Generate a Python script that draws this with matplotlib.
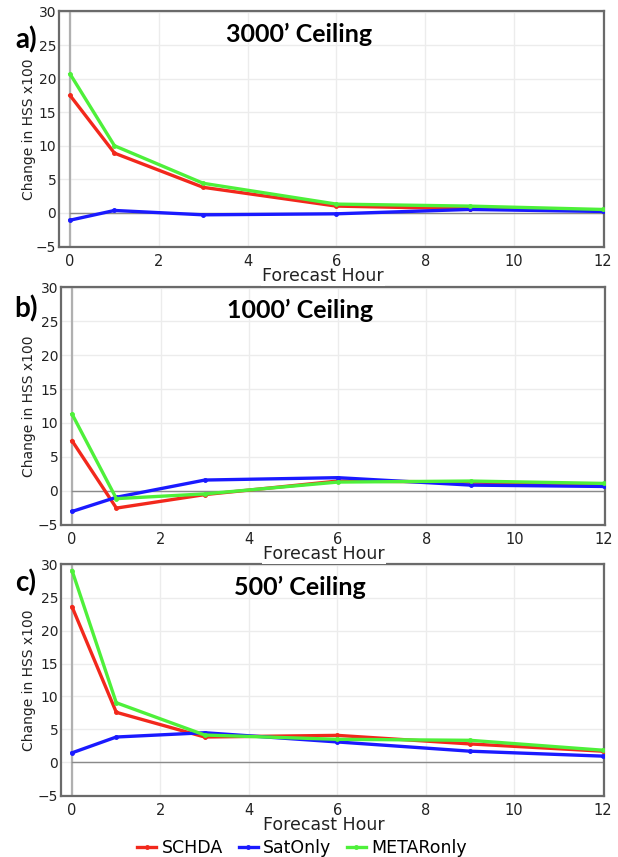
import matplotlib
matplotlib.use("Agg")
import matplotlib.pyplot as plt

# forecast hours
hours = [0, 1, 3, 6, 9, 12]

# change in HSS x100
schda_3000 = [17.5, 8.9, 3.8, 1.0, 0.6, 0.35]
sat_3000 = [-1.1, 0.35, -0.3, -0.15, 0.5, 0.2]
metar_3000 = [20.7, 10.0, 4.4, 1.3, 1.0, 0.5]

schda_1000 = [7.35, -2.6, -0.6, 1.4, 1.25, 0.9]
sat_1000 = [-3.1, -1.0, 1.55, 1.9, 0.8, 0.6]
metar_1000 = [11.3, -1.2, -0.5, 1.25, 1.4, 1.05]

schda_500 = [23.6, 7.6, 3.85, 4.1, 2.8, 1.7]
sat_500 = [1.45, 3.85, 4.5, 3.1, 1.7, 0.95]
metar_500 = [29.1, 9.05, 4.15, 3.5, 3.35, 1.85]

titles = ["3000\u2019 Ceiling", "1000\u2019 Ceiling", "500\u2019 Ceiling"]
letters = ["a)", "b)", "c)"]
series_names = ["SCHDA", "SatOnly", "METARonly"]
colors = ["#f2281c", "#1a1aff", "#4ef03a"]

panels = [
	[schda_3000, sat_3000, metar_3000],
	[schda_1000, sat_1000, metar_1000],
	[schda_500, sat_500, metar_500],
]

W, H = 618, 857
fig = plt.figure(figsize=(W / 100, H / 100), dpi=100)

# axes boxes in pixels: left, top, right, bottom
boxes = [(59, 11, 604, 247), (61, 287, 605, 525), (61, 564, 604, 796)]

axes = []
for i, (l, t, r, b) in enumerate(boxes):
	ax = fig.add_axes([l / W, 1 - b / H, (r - l) / W, (b - t) / H])
	ax.set_zorder(3 - i)	# x label box of the panel above hides the next top spine
	axes.append(ax)

for i, ax in enumerate(axes):
	l, t, r, b = boxes[i]
	ax.set_xlim(-0.25, 12.03)
	ax.set_ylim(-5.1, 30.1)
	ax.set_xticks(range(0, 13, 2))
	ax.set_yticks(range(-5, 31, 5))
	ax.grid(True, color="#ececec", lw=1.0)
	ax.set_axisbelow(True)
	ax.tick_params(length=0, labelsize=10.5, colors="#222222")
	ax.tick_params(axis="y", pad=2, labelsize=10)
	ax.tick_params(axis="x", pad=5)
	for s in ax.spines.values():
		s.set_color("#6a6a6a")
		s.set_linewidth(1.6)

	# reference lines at hour 0 and zero change
	ax.plot([0, 0], [-5, 30], color="#b0b0b0", lw=1.6, zorder=1)
	ax.plot([0, 12], [0, 0], color="#8a8a8a", lw=1.0, zorder=1)

	for k, vals in enumerate(panels[i]):
		ax.plot(hours, vals, color=colors[k], lw=2.4, marker="o", markersize=2.5,
			label=series_names[k], zorder=3 + (1 if k == 2 else 0))

	ax.set_xlabel("Forecast Hour", fontsize=12.5, color="#222222",
		bbox=dict(facecolor="white", edgecolor="none", pad=1))
	ax.xaxis.set_label_coords(0.484, -20 / (b - t))
	ax.set_ylabel("Change in HSS x100", fontsize=10, color="#222222")
	ax.yaxis.set_label_coords(-(l - 36) / (r - l), 0.5)

	ax.text(0.44, (b - (t + 23)) / (b - t), titles[i], transform=ax.transAxes,
		ha="center", va="center", fontsize=18, fontweight="bold", family="Lato")

title_y = [40, 309, 583]
for i in range(3):
	fig.text(26 / W, 1 - title_y[i] / H, letters[i], ha="center", va="center",
		fontsize=20, fontweight="bold", family="Lato")

handles, labs = axes[2].get_legend_handles_labels()
fig.legend(handles, labs, loc="center", bbox_to_anchor=(302 / W, 1 - 848 / H), ncol=3,
	frameon=False, fontsize=12.5, handlelength=1.1, handletextpad=0.3, columnspacing=0.9)

fig.savefig("out.png", dpi=100)
